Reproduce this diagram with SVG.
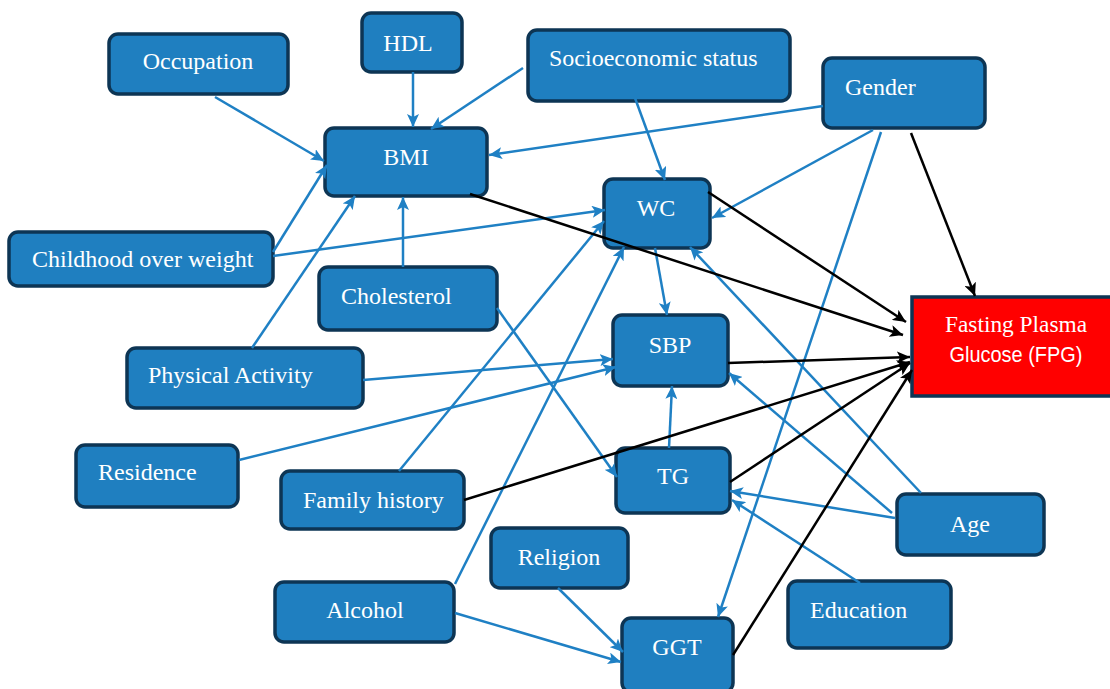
<svg xmlns="http://www.w3.org/2000/svg" width="1110" height="689" viewBox="0 0 1110 689">
<defs>
<style>
.node rect{fill:#1f7fc0;stroke:#0d3554;stroke-width:3.5}
.node text{fill:#ffffff;font-family:"Liberation Serif","Times New Roman",serif;font-size:24px}
.c{text-anchor:middle}
.blue line{stroke:#1f80c4;stroke-width:2.5;marker-end:url(#ab)}
.black line{stroke:#000000;stroke-width:2.5;marker-end:url(#ak)}
</style>
<marker id="ab" markerUnits="userSpaceOnUse" markerWidth="14" markerHeight="12" refX="13" refY="6" orient="auto"><path d="M0,0 L13,6 L0,12 L3,6 z" fill="#1f80c4"/></marker>
<marker id="ak" markerUnits="userSpaceOnUse" markerWidth="14" markerHeight="12" refX="13" refY="6" orient="auto"><path d="M0,0 L13,6 L0,12 L3,6 z" fill="#000000"/></marker>
</defs>
<rect width="1110" height="689" fill="#ffffff"/>
<g id="nodes">
<g id="occupation" class="node"><rect x="109" y="34" width="179" height="60" rx="9"/><text x="198" y="69" class="c">Occupation</text></g>
<g id="hdl" class="node"><rect x="362" y="13" width="100" height="59" rx="9"/><text x="408" y="51" class="c">HDL</text></g>
<g id="bmi" class="node"><rect x="325" y="128" width="162" height="68" rx="9"/><text x="406" y="165" class="c">BMI</text></g>
<g id="ses" class="node"><rect x="528" y="30" width="262" height="71" rx="9"/><text x="549" y="66">Socioeconomic status</text></g>
<g id="gender" class="node"><rect x="823" y="58" width="162" height="70" rx="9"/><text x="845" y="95">Gender</text></g>
<g id="wc" class="node"><rect x="604" y="179" width="106" height="69" rx="9"/><text x="656" y="216" class="c">WC</text></g>
<g id="childhood" class="node"><rect x="9" y="232" width="264" height="54" rx="9"/><text x="32" y="267">Childhood over weight</text></g>
<g id="cholesterol" class="node"><rect x="319" y="267" width="178" height="63" rx="9"/><text x="341" y="304">Cholesterol</text></g>
<g id="physical" class="node"><rect x="127" y="348" width="236" height="60" rx="9"/><text x="148" y="383">Physical Activity</text></g>
<g id="sbp" class="node"><rect x="613" y="315" width="115" height="71" rx="9"/><text x="670" y="353" class="c">SBP</text></g>
<g id="fpg" class="node"><rect x="912" y="297" width="202" height="99" style="fill:#ff0000"/><text x="1016" y="332" class="c" textLength="142" lengthAdjust="spacingAndGlyphs">Fasting Plasma</text><text x="1016" y="362" class="c" style="font-family:'Liberation Sans',Arial,sans-serif;font-size:22px" textLength="133" lengthAdjust="spacingAndGlyphs">Glucose (FPG)</text></g>
<g id="residence" class="node"><rect x="76" y="445" width="162" height="62" rx="9"/><text x="98" y="480">Residence</text></g>
<g id="tg" class="node"><rect x="616" y="448" width="114" height="65" rx="9"/><text x="673" y="484" class="c">TG</text></g>
<g id="age" class="node"><rect x="897" y="494" width="147" height="61" rx="9"/><text x="970" y="532" class="c">Age</text></g>
<g id="education" class="node"><rect x="788" y="581" width="163" height="67" rx="9"/><text x="810" y="618">Education</text></g>
<g id="family" class="node"><rect x="281" y="471" width="183" height="58" rx="9"/><text x="303" y="508">Family history</text></g>
<g id="religion" class="node"><rect x="491" y="528" width="137" height="60" rx="9"/><text x="559" y="565" class="c">Religion</text></g>
<g id="alcohol" class="node"><rect x="275" y="582" width="179" height="60" rx="9"/><text x="365" y="618" class="c">Alcohol</text></g>
<g id="ggt" class="node"><rect x="622" y="618" width="111" height="74" rx="9"/><text x="677" y="655" class="c">GGT</text></g>
</g>
<g id="connectors">
<g class="blue">
<line x1="215" y1="97" x2="324" y2="161"/>
<line x1="413" y1="72" x2="413" y2="127"/>
<line x1="523" y1="68" x2="431" y2="129"/>
<line x1="823" y1="106" x2="489" y2="155"/>
<line x1="635" y1="98" x2="665" y2="180"/>
<line x1="873" y1="130" x2="712" y2="218"/>
<line x1="881" y1="132" x2="718" y2="617"/>
<line x1="273" y1="256" x2="605" y2="210"/>
<line x1="273" y1="252" x2="327" y2="165"/>
<line x1="252" y1="348" x2="355" y2="196"/>
<line x1="403" y1="267" x2="403" y2="197"/>
<line x1="497" y1="308" x2="617" y2="477"/>
<line x1="363" y1="380" x2="613" y2="359"/>
<line x1="239" y1="460" x2="616" y2="367"/>
<line x1="399" y1="471" x2="604" y2="221"/>
<line x1="455" y1="584" x2="624" y2="247"/>
<line x1="655" y1="248" x2="667" y2="315"/>
<line x1="921" y1="493" x2="690" y2="247"/>
<line x1="892" y1="513" x2="729" y2="373"/>
<line x1="895" y1="518" x2="730" y2="491"/>
<line x1="860" y1="583" x2="732" y2="500"/>
<line x1="669" y1="448" x2="672" y2="386"/>
<line x1="455" y1="613" x2="621" y2="662"/>
<line x1="558" y1="588" x2="623" y2="652"/>
</g>
<g class="black">
<line x1="911" y1="133" x2="975" y2="296"/>
<line x1="470" y1="194" x2="903" y2="335"/>
<line x1="708" y1="192" x2="906" y2="322"/>
<line x1="728" y1="363" x2="910" y2="357"/>
<line x1="730" y1="482" x2="910" y2="363"/>
<line x1="464" y1="500" x2="910" y2="362"/>
<line x1="733" y1="655" x2="912" y2="370"/>
</g>
</g>
</svg>
